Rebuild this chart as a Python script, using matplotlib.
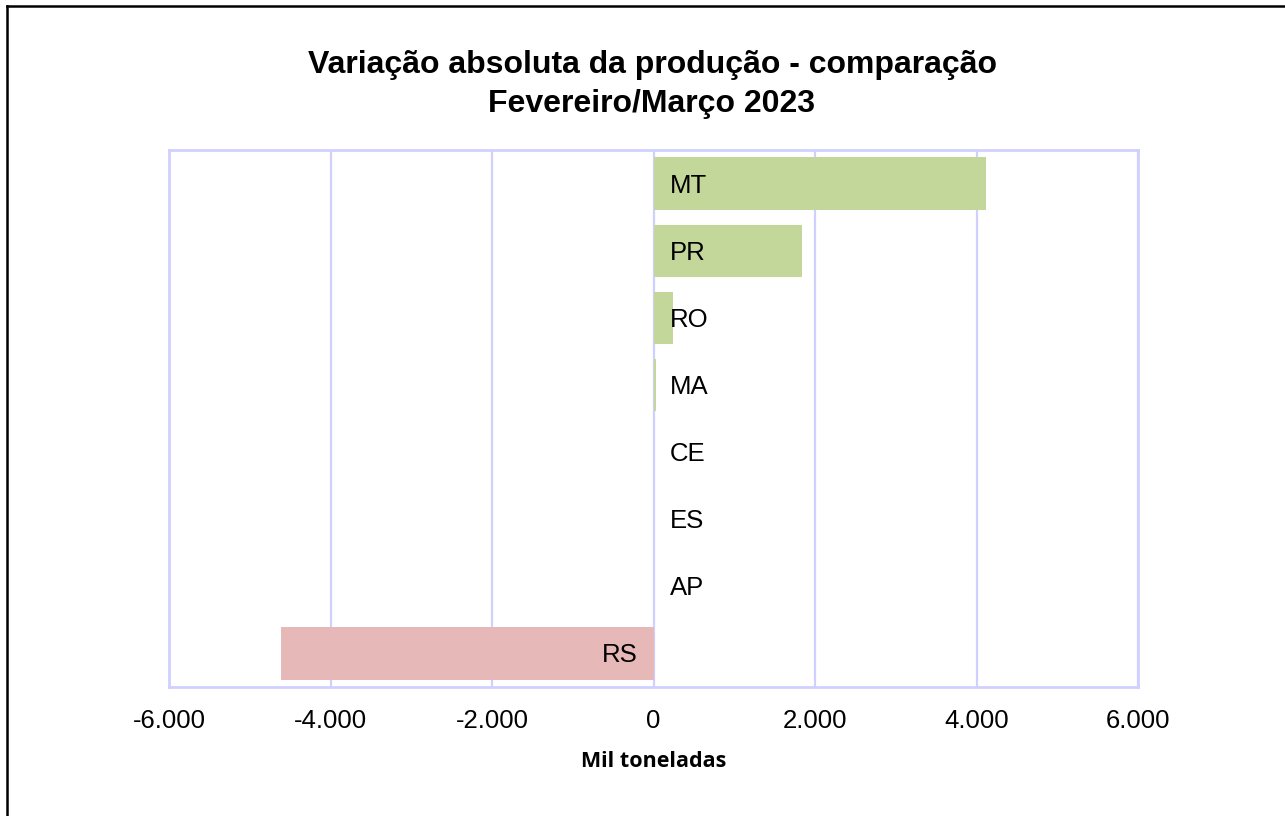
import matplotlib
matplotlib.use("Agg")
import matplotlib.pyplot as plt
from matplotlib.lines import Line2D

states = ["MT", "PR", "RO", "MA", "CE", "ES", "AP", "RS"]
values = [4118, 1839, 245, 30, 0, 0, 0, -4610]
xticks = [-6000, -4000, -2000, 0, 2000, 4000, 6000]
xtick_labels = ["-6.000", "-4.000", "-2.000", "0", "2.000", "4.000", "6.000"]
title = "Variação absoluta da produção - comparação\nFevereiro/Março 2023"
xlabel = "Mil toneladas"

W, H = 1285, 816
fig = plt.figure(figsize=(W / 100, H / 100), dpi=100)
ax = fig.add_axes([169 / W, 1 - 687 / H, (1138 - 169) / W, (687 - 150) / H])

grid_c = "#d0d0ff"
pos_c = "#c4d79b"
neg_c = "#e6b8b7"

ypos = list(range(len(states)))
colors = [pos_c if v >= 0 else neg_c for v in values]
ax.barh(ypos, values, height=0.78, color=colors, zorder=2)
ax.set_ylim(len(states) - 0.5, -0.5)
ax.set_xlim(xticks[0], xticks[-1])
ax.set_xticks(xticks)
ax.set_xticklabels(xtick_labels, fontsize=18.5, family="Liberation Sans")
ax.set_yticks([])
ax.tick_params(axis="x", length=0, pad=16)
ax.grid(axis="x", color=grid_c, linewidth=1.6, zorder=1)
for s in ax.spines.values():
    s.set_color(grid_c)
    s.set_linewidth(2)

off = 200
for y, s, v in zip(ypos, states, values):
    if v >= 0:
        ax.text(off, y + 0.03, s, ha="left", va="center", fontsize=18.5,
                family="Liberation Sans", zorder=3)
    else:
        ax.text(-off, y + 0.03, s, ha="right", va="center", fontsize=18.5,
                family="Liberation Sans", zorder=3)

ax.set_xlabel(xlabel, fontsize=15.5, fontweight="bold", family="Open Sans", labelpad=13)

fig.text(652 / W, 1 - 84.5 / H, title, ha="center", va="center", fontsize=23,
         fontweight="bold", family="Liberation Sans", linespacing=1.42)

# outer frame (left and top edges only visible)
fig.add_artist(Line2D([6.5 / W, 6.5 / W], [0, 1 - 6 / H], transform=fig.transFigure,
                      color="black", linewidth=1.8))
fig.add_artist(Line2D([6.5 / W, 1], [1 - 6 / H, 1 - 6 / H], transform=fig.transFigure,
                      color="black", linewidth=1.8))

fig.savefig("out.png", dpi=100)
